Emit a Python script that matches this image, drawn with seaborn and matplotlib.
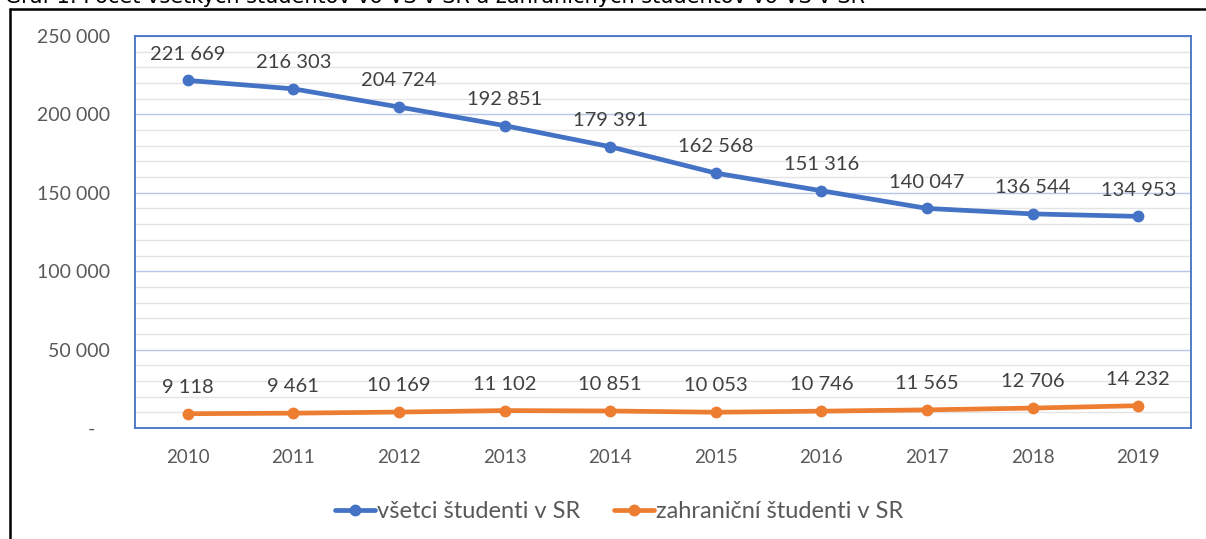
import numpy as np
import pandas as pd
import matplotlib
matplotlib.use("Agg")
import matplotlib.pyplot as plt
from matplotlib.lines import Line2D
from matplotlib.ticker import MultipleLocator, FixedLocator
import seaborn as sns

years = [2010, 2011, 2012, 2013, 2014, 2015, 2016, 2017, 2018, 2019]
all_students = [221669, 216303, 204724, 192851, 179391, 162568, 151316, 140047, 136544, 134953]
foreign_students = [9118, 9461, 10169, 11102, 10851, 10053, 10746, 11565, 12706, 14232]
series_names = ["všetci študenti v SR", "zahraniční študenti v SR"]
y_ticks = [0, 50000, 100000, 150000, 200000, 250000]
title = "Graf 1: Počet všetkých študentov vo VŠ v SR a zahraničných študentov vo VŠ v SR"

sns.set_theme(style="white")
plt.rcParams["font.family"] = ["Lato", "DejaVu Sans"]

W, H = 1206, 539
fig = plt.figure(figsize=(W / 100, H / 100), dpi=100)
ax = fig.add_axes([135 / W, 1 - 428 / H, (1191 - 135) / W, (428 - 36) / H])

df = pd.DataFrame({
    "year": years * 2,
    "value": all_students + foreign_students,
    "series": [series_names[0]] * len(years) + [series_names[1]] * len(years),
})
colors = {series_names[0]: "#4472C4", series_names[1]: "#ED7D31"}

for name in series_names:
    sub = df[df["series"] == name]
    sns.lineplot(data=sub, x="year", y="value", ax=ax, color=colors[name],
                 linewidth=3.4, marker="o", markersize=8.5, markeredgewidth=0,
                 label=name, zorder=3)
    for x, y in zip(sub["year"], sub["value"]):
        ax.annotate(f"{y:,}".replace(",", " "), (x, y), xytext=(0, 19),
                    textcoords="offset points", ha="center", va="center",
                    fontsize=14.5, color="#404040", zorder=4)

ax.set_xlim(2009.5, 2019.5)
ax.set_ylim(0, 250000)
ax.xaxis.set_major_locator(FixedLocator(years))
ax.set_xticklabels([str(y) for y in years])
ax.yaxis.set_major_locator(FixedLocator(y_ticks))
ax.set_yticklabels(["-   "] + [f"{v:,}".replace(",", " ") for v in y_ticks[1:]])
ax.yaxis.set_minor_locator(MultipleLocator(10000))
ax.grid(which="minor", axis="y", color="#e4e4e4", linewidth=1.0, zorder=0)
ax.grid(which="major", axis="y", color="#b4c7e7", linewidth=1.0, zorder=1)
ax.grid(which="major", axis="x", visible=False)
ax.tick_params(axis="both", which="both", length=0)
ax.tick_params(axis="y", pad=18, labelsize=14, labelcolor="#595959")
ax.tick_params(axis="x", pad=15, labelsize=13.5, labelcolor="#595959")
ax.set_xlabel("")
ax.set_ylabel("")
for s in ax.spines.values():
    s.set_visible(True)
    s.set_color("#4472C4")
    s.set_linewidth(1.3)

leg = ax.legend(loc="center", bbox_to_anchor=(619 / W, 27 / H),
                bbox_transform=fig.transFigure, ncol=2, frameon=False,
                fontsize=17, handlelength=1.7, columnspacing=1.45, handletextpad=0.08)
for t in leg.get_texts():
    t.set_color("#595959")

# outer frame lines (top and left) of the original figure image
fig.add_artist(Line2D([10 / W, 1], [1 - 9 / H, 1 - 9 / H], transform=fig.transFigure,
                      color="black", linewidth=1.8))
fig.add_artist(Line2D([10 / W, 10 / W], [0, 1 - 9 / H], transform=fig.transFigure,
                      color="black", linewidth=1.8))
fig.text(5 / W, 1 - 3 / H, title, ha="left", va="baseline", fontsize=15,
         color="black", family=["DejaVu Sans"])

fig.savefig("out.png", dpi=100)
